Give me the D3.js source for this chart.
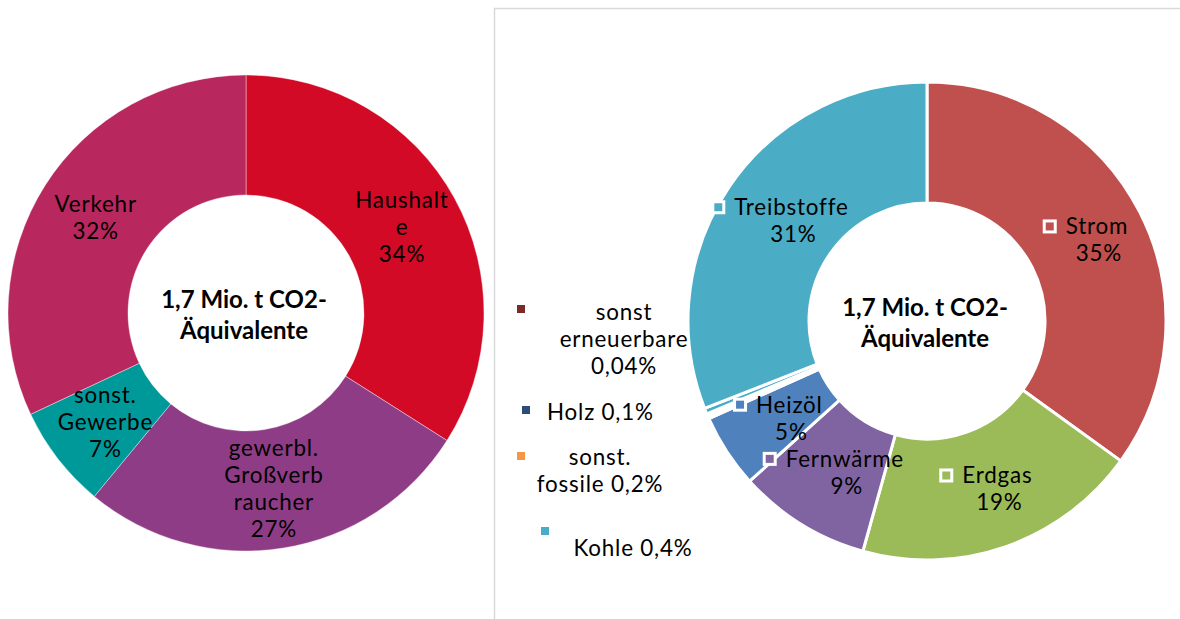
<!DOCTYPE html>
<html>
<head>
<meta charset="utf-8">
<script src="https://cdn.jsdelivr.net/npm/d3@7"></script>
<style>
  body { margin: 0; background: #fff; }
  svg text { font-family: Lato, sans-serif; fill: #000; }
  svg text.lbl { letter-spacing: 0.8px; }
</style>
</head>
<body>
<div id="container"></div>
<script>
// left chart: sectors
var sectorNames = ["Haushalte", "gewerbl. Großverbraucher", "sonst. Gewerbe", "Verkehr"];
var sectorValues = [34, 27, 7, 32];
var sectorLabels = [["Haushalt", "e", "34%"], ["gewerbl.", "Großverb", "raucher", "27%"], ["sonst.", "Gewerbe", "7%"], ["Verkehr", "32%"]];
var sectorColors = ["#D20A26", "#8F3C87", "#00999A", "#B8275D"];

// right chart: energy carriers
var carrierNames = ["Strom", "Erdgas", "Fernwärme", "Heizöl", "sonst erneuerbare", "Holz", "sonst. fossile", "Kohle", "Treibstoffe"];
var carrierValues = [35, 19.4, 9, 5, 0.04, 0.1, 0.2, 0.4, 31];
var carrierPct = ["35%", "19%", "9%", "5%", "0,04%", "0,1%", "0,2%", "0,4%", "31%"];
var carrierColors = ["#C0504D", "#9BBB59", "#8064A2", "#4F81BD", "#772C2A", "#2C4D75", "#F79646", "#4BACC6", "#4BACC6"];
var carrierInLabel = [true, true, true, true, false, false, false, false, true];

// small carriers shown as legend on the side
var legendIdx = [4, 5, 6, 7];
var legendLines = [["sonst", "erneuerbare", "0,04%"], ["Holz 0,1%"], ["sonst.", "fossile 0,2%"], ["Kohle 0,4%"]];

var centerText = ["1,7 Mio. t CO2-", "Äquivalente"];

var width = 1180, height = 619;
var fontSize = 22.4, lineH = 27;

var svg = d3.select("#container").append("svg")
    .attr("width", width)
    .attr("height", height);

// frame of right panel
svg.append("path")
    .attr("d", "M494.5,619 V8.5 H1180")
    .attr("fill", "none")
    .attr("stroke", "#D9D9D9")
    .attr("stroke-width", 1.5);

var pie = d3.pie().sort(null).value(function(d) { return d; });

function drawCenter(g) {
    g.selectAll("text.center")
        .data(centerText)
        .enter().append("text")
        .attr("class", "center")
        .attr("text-anchor", "middle")
        .attr("x", -2)
        .attr("y", function(d, i) { return -13 + i * 31 + 8; })
        .style("font-size", "24px")
        .style("font-weight", "bold")
        .text(function(d) { return d; });
}

// ---- left donut
var L = { cx: 246, cy: 313, ro: 238, ri: 118 };
var arcL = d3.arc().innerRadius(L.ri).outerRadius(L.ro);
var labelArcL = d3.arc().innerRadius(178).outerRadius(178);
var gL = svg.append("g").attr("transform", "translate(" + L.cx + "," + L.cy + ")");

var arcsL = pie(sectorValues);
gL.selectAll("path")
    .data(arcsL)
    .enter().append("path")
    .attr("d", arcL)
    .attr("fill", function(d, i) { return sectorColors[i]; })
    .attr("stroke", "#fff")
    .attr("stroke-width", 0.4);

arcsL.forEach(function(a, i) {
    var c = labelArcL.centroid(a);
    var lines = sectorLabels[i];
    var y0 = c[1] - (lines.length - 1) * lineH / 2;
    gL.append("text")
        .attr("class", "lbl")
        .attr("text-anchor", "middle")
        .style("font-size", fontSize + "px")
        .selectAll("tspan")
        .data(lines)
        .enter().append("tspan")
        .attr("x", c[0])
        .attr("y", function(d, j) { return y0 + j * lineH + 8; })
        .text(function(d) { return d; });
});
drawCenter(gL);

// ---- right donut
var R = { cx: 927, cy: 321, ro: 239, ri: 118 };
var arcR = d3.arc().innerRadius(R.ri).outerRadius(R.ro);
var labelArcR = d3.arc().innerRadius(178).outerRadius(178);
var gR = svg.append("g").attr("transform", "translate(" + R.cx + "," + R.cy + ")");

var arcsR = pie(carrierValues);
gR.selectAll("path")
    .data(arcsR)
    .enter().append("path")
    .attr("d", arcR)
    .attr("fill", function(d, i) { return carrierColors[i]; })
    .attr("stroke", "#fff")
    .attr("stroke-width", 3)
    .attr("stroke-linejoin", "round");

var keyO = 14, keyI = 8, keyGap = 9;
arcsR.forEach(function(a, i) {
    if (!carrierInLabel[i]) return;
    var c = labelArcR.centroid(a);
    var y0 = c[1] - lineH / 2;
    var t = gR.append("text")
        .attr("class", "lbl")
        .attr("y", y0 + 8)
        .style("font-size", fontSize + "px")
        .text(carrierNames[i]);
    var w = t.node().getComputedTextLength();
    var total = keyO + keyGap + w;
    var x0 = c[0] - total / 2;
    t.attr("x", x0 + keyO + keyGap);
    gR.append("rect")
        .attr("x", x0).attr("y", y0 - keyO / 2)
        .attr("width", keyO).attr("height", keyO)
        .attr("fill", "#fff");
    gR.append("rect")
        .attr("x", x0 + (keyO - keyI) / 2).attr("y", y0 - keyI / 2)
        .attr("width", keyI).attr("height", keyI)
        .attr("fill", carrierColors[i]);
    // percentage centred under the name
    gR.append("text")
        .attr("class", "lbl")
        .attr("text-anchor", "middle")
        .attr("x", x0 + keyO + keyGap + w / 2 + 2)
        .attr("y", y0 + lineH + 8)
        .style("font-size", fontSize + "px")
        .text(carrierPct[i]);
});
drawCenter(gR);

// ---- side legend for the tiny carriers
var legendPos = [
    { sx: 521, sy: 309, tx: 624, ty: 312, anchor: "middle" },
    { sx: 526, sy: 410, tx: 547, ty: 412, anchor: "start" },
    { sx: 521, sy: 456, tx: 600, ty: 457, anchor: "middle" },
    { sx: 545, sy: 531, tx: 633, ty: 548, anchor: "middle" }
];
var gLeg = svg.append("g");
legendIdx.forEach(function(ci, k) {
    var p = legendPos[k];
    gLeg.append("rect")
        .attr("x", p.sx - 4).attr("y", p.sy - 4)
        .attr("width", 8).attr("height", 8)
        .attr("fill", carrierColors[ci]);
    gLeg.append("text")
        .attr("class", "lbl")
        .attr("text-anchor", p.anchor)
        .style("font-size", fontSize + "px")
        .selectAll("tspan")
        .data(legendLines[k])
        .enter().append("tspan")
        .attr("x", p.tx)
        .attr("y", function(d, j) { return p.ty + j * 27 + 8; })
        .text(function(d) { return d; });
});
</script>
</body>
</html>
